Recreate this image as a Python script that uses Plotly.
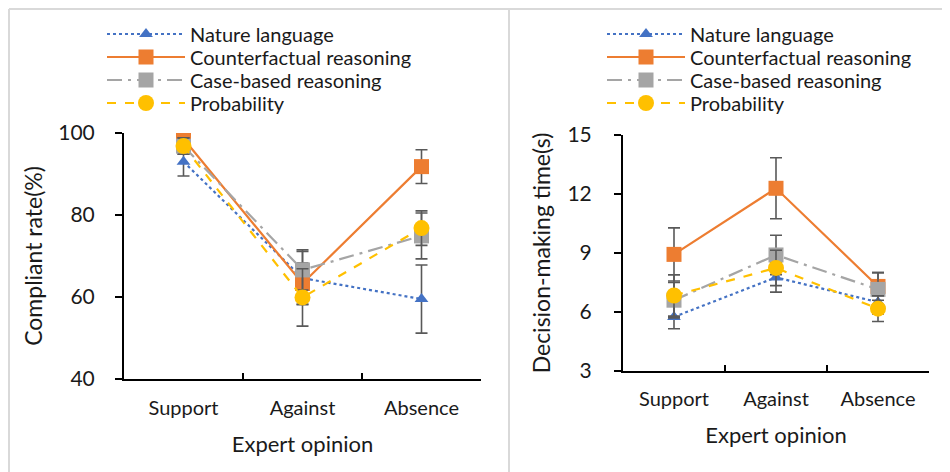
import plotly.graph_objects as go

# ---------------- data ----------------
categories = ["Support", "Against", "Absence"]
series_names = ["Nature language", "Counterfactual reasoning",
                "Case-based reasoning", "Probability"]

# Left panel: compliant rate (%)
compliant_nature = [93.0, 64.6, 59.5]
compliant_nature_err = [3.5, 6.5, 8.3]
compliant_counter = [98.6, 63.3, 91.8]
compliant_counter_err = [1.5, 5.0, 4.1]
compliant_case = [96.8, 66.6, 74.9]
compliant_case_err = [2.0, 4.9, 5.6]
compliant_prob = [96.8, 59.9, 76.8]
compliant_prob_err = [2.0, 7.0, 4.2]

# Right panel: decision-making time (s)
time_nature = [5.75, 7.76, 6.5]
time_nature_err = [0.6, 0.75, 0.6]
time_counter = [8.93, 12.29, 7.3]
time_counter_err = [1.35, 1.55, 0.7]
time_case = [6.6, 8.9, 7.15]
time_case_err = [0.9, 1.0, 0.85]
time_prob = [6.84, 8.24, 6.17]
time_prob_err = [1.05, 0.9, 0.65]

left_ticks = [40, 60, 80, 100]
right_ticks = [3, 6, 9, 12, 15]

# ---------------- styles / layout ----------------
FONT = "Lato"
TXT = "#1a1a1a"
styles = [
    dict(color="#4472C4", dash="dot", symbol="triangle-up", size=12),
    dict(color="#ED7D31", dash="solid", symbol="square", size=15),
    dict(color="#A5A5A5", dash="longdashdot", symbol="square", size=15),
    dict(color="#FFC000", dash="dash", symbol="circle", size=16),
]
ERR_COLOR = "#595959"

OFF = 8                      # page body margin of the rendered html
W, H = 950 - OFF, 472 - OFF  # figure size


def fx(px):  # screen x pixel -> paper fraction
    return (px - OFF) / W


def fy(py):  # screen y pixel -> paper fraction
    return 1 - (py - OFF) / H


legend_rows = [34, 57, 80, 103]   # screen pixel centres of legend rows

left_vals = [(compliant_nature, compliant_nature_err),
             (compliant_counter, compliant_counter_err),
             (compliant_case, compliant_case_err),
             (compliant_prob, compliant_prob_err)]
right_vals = [(time_nature, time_nature_err),
              (time_counter, time_counter_err),
              (time_case, time_case_err),
              (time_prob, time_prob_err)]

fig = go.Figure()
legend_layouts = {}


def legend_key(n):
    return "legend" if n == 1 else f"legend{n}"


def add_series(vals, xa, ya, first_legend, legend_x):
    for i, (name, (y, e), st) in enumerate(zip(series_names, vals, styles)):
        key = legend_key(first_legend + i)
        fig.add_trace(go.Scatter(
            x=categories, y=y, name=name, mode="lines+markers",
            xaxis=xa, yaxis=ya, legend=key,
            line=dict(color=st["color"], width=2.2, dash=st["dash"]),
            marker=dict(symbol=st["symbol"], size=st["size"], color=st["color"]),
            error_y=dict(type="data", array=e, visible=True,
                         color=ERR_COLOR, thickness=1.6, width=6),
        ))
        legend_layouts[key] = dict(
            x=fx(legend_x), y=fy(legend_rows[i]),
            xanchor="left", yanchor="middle", bgcolor="rgba(0,0,0,0)",
            font=dict(family=FONT, size=20, color=TXT),
            itemwidth=78, borderwidth=0,
        )


add_series(left_vals, "x", "y", 1, 102)
add_series(right_vals, "x2", "y2", 5, 602)


def xaxis_cfg(x0, x1, anchor, standoff_lbl, title_standoff):
    return dict(
        domain=[fx(x0), fx(x1)], anchor=anchor, type="category",
        range=[-0.5, 2.5], showline=True, linecolor="black", linewidth=2,
        ticks="inside", tickson="boundaries", ticklen=6, tickwidth=2,
        tickcolor="black", showgrid=False, zeroline=False, automargin=False,
        tickfont=dict(family=FONT, size=20, color=TXT),
        ticklabelstandoff=standoff_lbl,
        title=dict(text="Expert opinion", standoff=title_standoff,
                   font=dict(family=FONT, size=22, color=TXT)),
    )


def yaxis_cfg(y_top, y_bot, anchor, rng, tickvals, title, standoff_lbl, title_standoff):
    return dict(
        domain=[fy(y_bot), fy(y_top)], anchor=anchor,
        range=rng, tickvals=tickvals, showline=True, linecolor="black",
        linewidth=2, ticks="outside", ticklen=7, tickwidth=2,
        tickcolor="black", showgrid=False, zeroline=False, automargin=False,
        tickfont=dict(family=FONT, size=21, color=TXT),
        ticklabelstandoff=standoff_lbl,
        title=dict(text=title, standoff=title_standoff,
                   font=dict(family=FONT, size=23, color=TXT)),
    )


border = dict(color="#d9d9d9", width=2)
fig.update_layout(
    width=W, height=H, autosize=False,
    margin=dict(l=0, r=0, t=0, b=0, autoexpand=False),
    paper_bgcolor="white", plot_bgcolor="white",
    showlegend=True,
    xaxis=xaxis_cfg(124, 481, "y", 10, 19),
    yaxis=yaxis_cfg(133, 379, "x", [40, 100], left_ticks,
                    "Compliant rate(%)", 16, 9),
    xaxis2=xaxis_cfg(623, 929, "y2", 9, 19),
    yaxis2=yaxis_cfg(135, 371, "x2", [3, 15], right_ticks,
                     "Decision-making time(s)", 18, 10),
    shapes=[
        dict(type="line", xref="paper", yref="paper", x0=fx(9), x1=1,
             y0=fy(9), y1=fy(9), line=border),
        dict(type="line", xref="paper", yref="paper", x0=fx(9), x1=fx(9),
             y0=0, y1=fy(9), line=border),
        dict(type="line", xref="paper", yref="paper", x0=fx(509), x1=fx(509),
             y0=0, y1=fy(9), line=border),
    ],
    **legend_layouts,
)

fig.write_html("out.html")
